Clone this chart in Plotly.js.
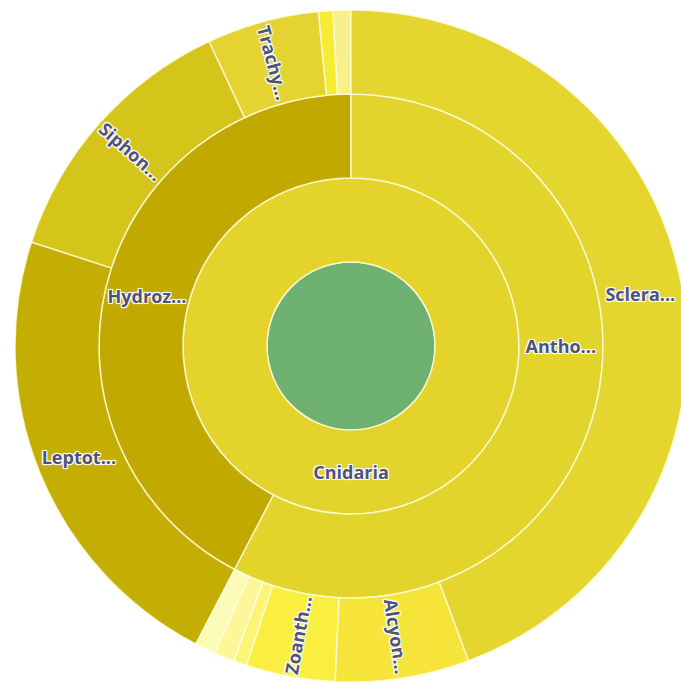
<!DOCTYPE html>
<html><head><meta charset="utf-8">
<script src="https://cdn.plot.ly/plotly-3.0.1.min.js"></script>
<style>html,body{margin:0;padding:0;overflow:hidden;background:#fff}#chart{width:690px;height:685px}</style>
</head><body><div id="chart"></div>
<script>
// Taxonomy (drawn counterclockwise from 12 o'clock, so listed in reverse of the clockwise view)
const labels = ['Animalia','Cnidaria','Hydrozoa','Anthozoa',
  'Limnomedusae','Narcomedusae','Trachymedusae','Siphonophorae','Leptothecata',
  'Pennatulacea','Antipatharia','Actiniaria','Zoantharia','Alcyonacea','Scleractinia'];
const parents = ['','Animalia','Cnidaria','Cnidaria',
  'Hydrozoa','Hydrozoa','Hydrozoa','Hydrozoa','Hydrozoa',
  'Anthozoa','Anthozoa','Anthozoa','Anthozoa','Anthozoa','Anthozoa'];
const values = [3600,3600,1525,2075,
  31,25,194,470,805,
  36,35,23,154,232,1595];
const shownText = ['','Cnidaria','Hydroz...','Antho...',
  '','','Trachy...','Siphon...','Leptot...',
  '','','','Zoanth...','Alcyon...','Sclera...'];
// labels of narrow sectors are written along the radius
const radialLabel = [false,false,false,true,
  false,false,true,true,false,
  false,false,false,true,true,false];
const colors = ['#6fb170','#e4d32b','#c2a900','#e3d42b',
  '#f8f08a','#f7ec33','#e4d330','#d5c41a','#c5ae03',
  '#fdfbb8','#fcf89a','#fbf576','#faef40','#f6e43a','#e4d52f'];

const font = {family: '"Open Sans", Roboto, Arial, sans-serif', size: 18, color: '#4e5378', weight: 700,
  shadow: '1px 1px 0 #fff, -1px -1px 0 #fff, 1px -1px 0 #fff, -1px 1px 0 #fff, 0 0 3px #fff'};

const common = {
  type: 'sunburst',
  labels: labels,
  parents: parents,
  values: values,
  branchvalues: 'total',
  sort: false,
  rotation: 90,
  textinfo: 'text',
  leaf: {opacity: 1},
  textfont: font,
  hoverinfo: 'none'
};
const sectors = Object.assign({}, common, {
  text: shownText.map((t, i) => radialLabel[i] ? t : ''),
  insidetextorientation: 'radial',
  marker: {colors: colors, line: {color: 'rgba(255,255,225,0.8)', width: 1.5}}
});
const flatLabels = Object.assign({}, common, {
  text: shownText.map((t, i) => radialLabel[i] ? '' : t),
  insidetextorientation: 'auto',
  marker: {colors: labels.map(() => 'rgba(0,0,0,0)'), line: {width: 0}}
});
const layout = {
  width: 690, height: 685,
  margin: {l: 15, r: 3, t: 10, b: 3},
  paper_bgcolor: '#ffffff',
  showlegend: false
};
Plotly.newPlot('chart', [sectors, flatLabels], layout, {displayModeBar: false, staticPlot: true});
</script>
</body></html>
